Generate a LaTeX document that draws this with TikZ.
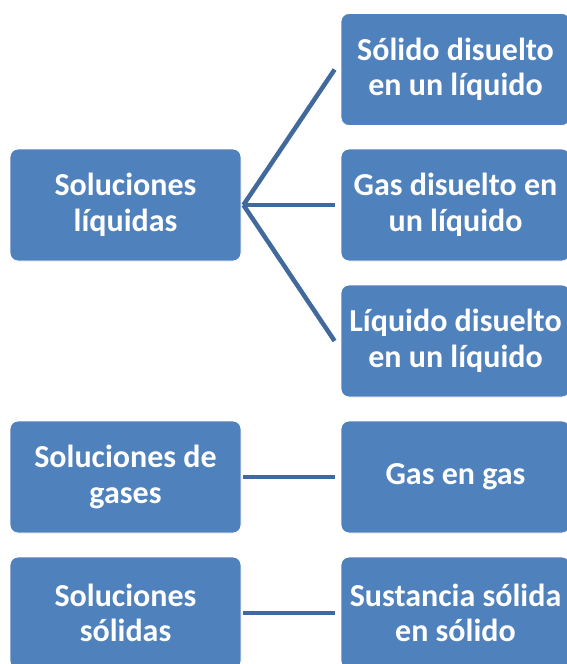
\documentclass[tikz,border=0pt]{standalone}
\usepackage{fontspec}
\setmainfont{Carlito}
\definecolor{boxblue}{HTML}{4F81BD}
\definecolor{linkblue}{HTML}{41699B}
\begin{document}
\begin{tikzpicture}[x=1pt,y=-1pt,
  box/.style={draw=white, line width=0.8pt, fill=boxblue, rounded corners=8pt,
    minimum width=231pt, minimum height=112pt, inner sep=0pt, text=white,
    align=center, font=\fontsize{32}{35.5}\selectfont\bfseries},
  rbox/.style={box, minimum width=229pt},
  link/.style={draw=linkblue, line width=4.5pt}]
\useasboundingbox (0,0) rectangle (566,664);
\node[box] (L1) at (125.5,205) {Soluciones\\líquidas};
\node[box] (L2) at (125.5,477) {Soluciones de\\gases};
\node[box] (L3) at (125.5,613) {Soluciones\\sólidas};
\node[rbox] (R1) at (455.5,69.5) {Sólido disuelto\\en un líquido};
\node[rbox] (R2) at (455.5,205) {Gas disuelto en\\un líquido};
\node[rbox] (R3) at (455.5,341) {Líquido disuelto\\en un líquido};
\node[rbox] (R4) at (455.5,477) {Gas en gas};
\node[rbox] (R5) at (455.5,613) {Sustancia sólida\\en sólido};
\coordinate (hub) at ([xshift=2pt]L1.east);
\draw[link] (hub) -- ([xshift=-6pt]R1.west);
\draw[link] (hub) -- ([xshift=-6pt]R2.west);
\draw[link] (hub) -- ([xshift=-6pt]R3.west);
\draw[link] ([xshift=2pt]L2.east) -- ([xshift=-6pt]R4.west);
\draw[link] ([xshift=2pt]L3.east) -- ([xshift=-6pt]R5.west);
\end{tikzpicture}
\end{document}
